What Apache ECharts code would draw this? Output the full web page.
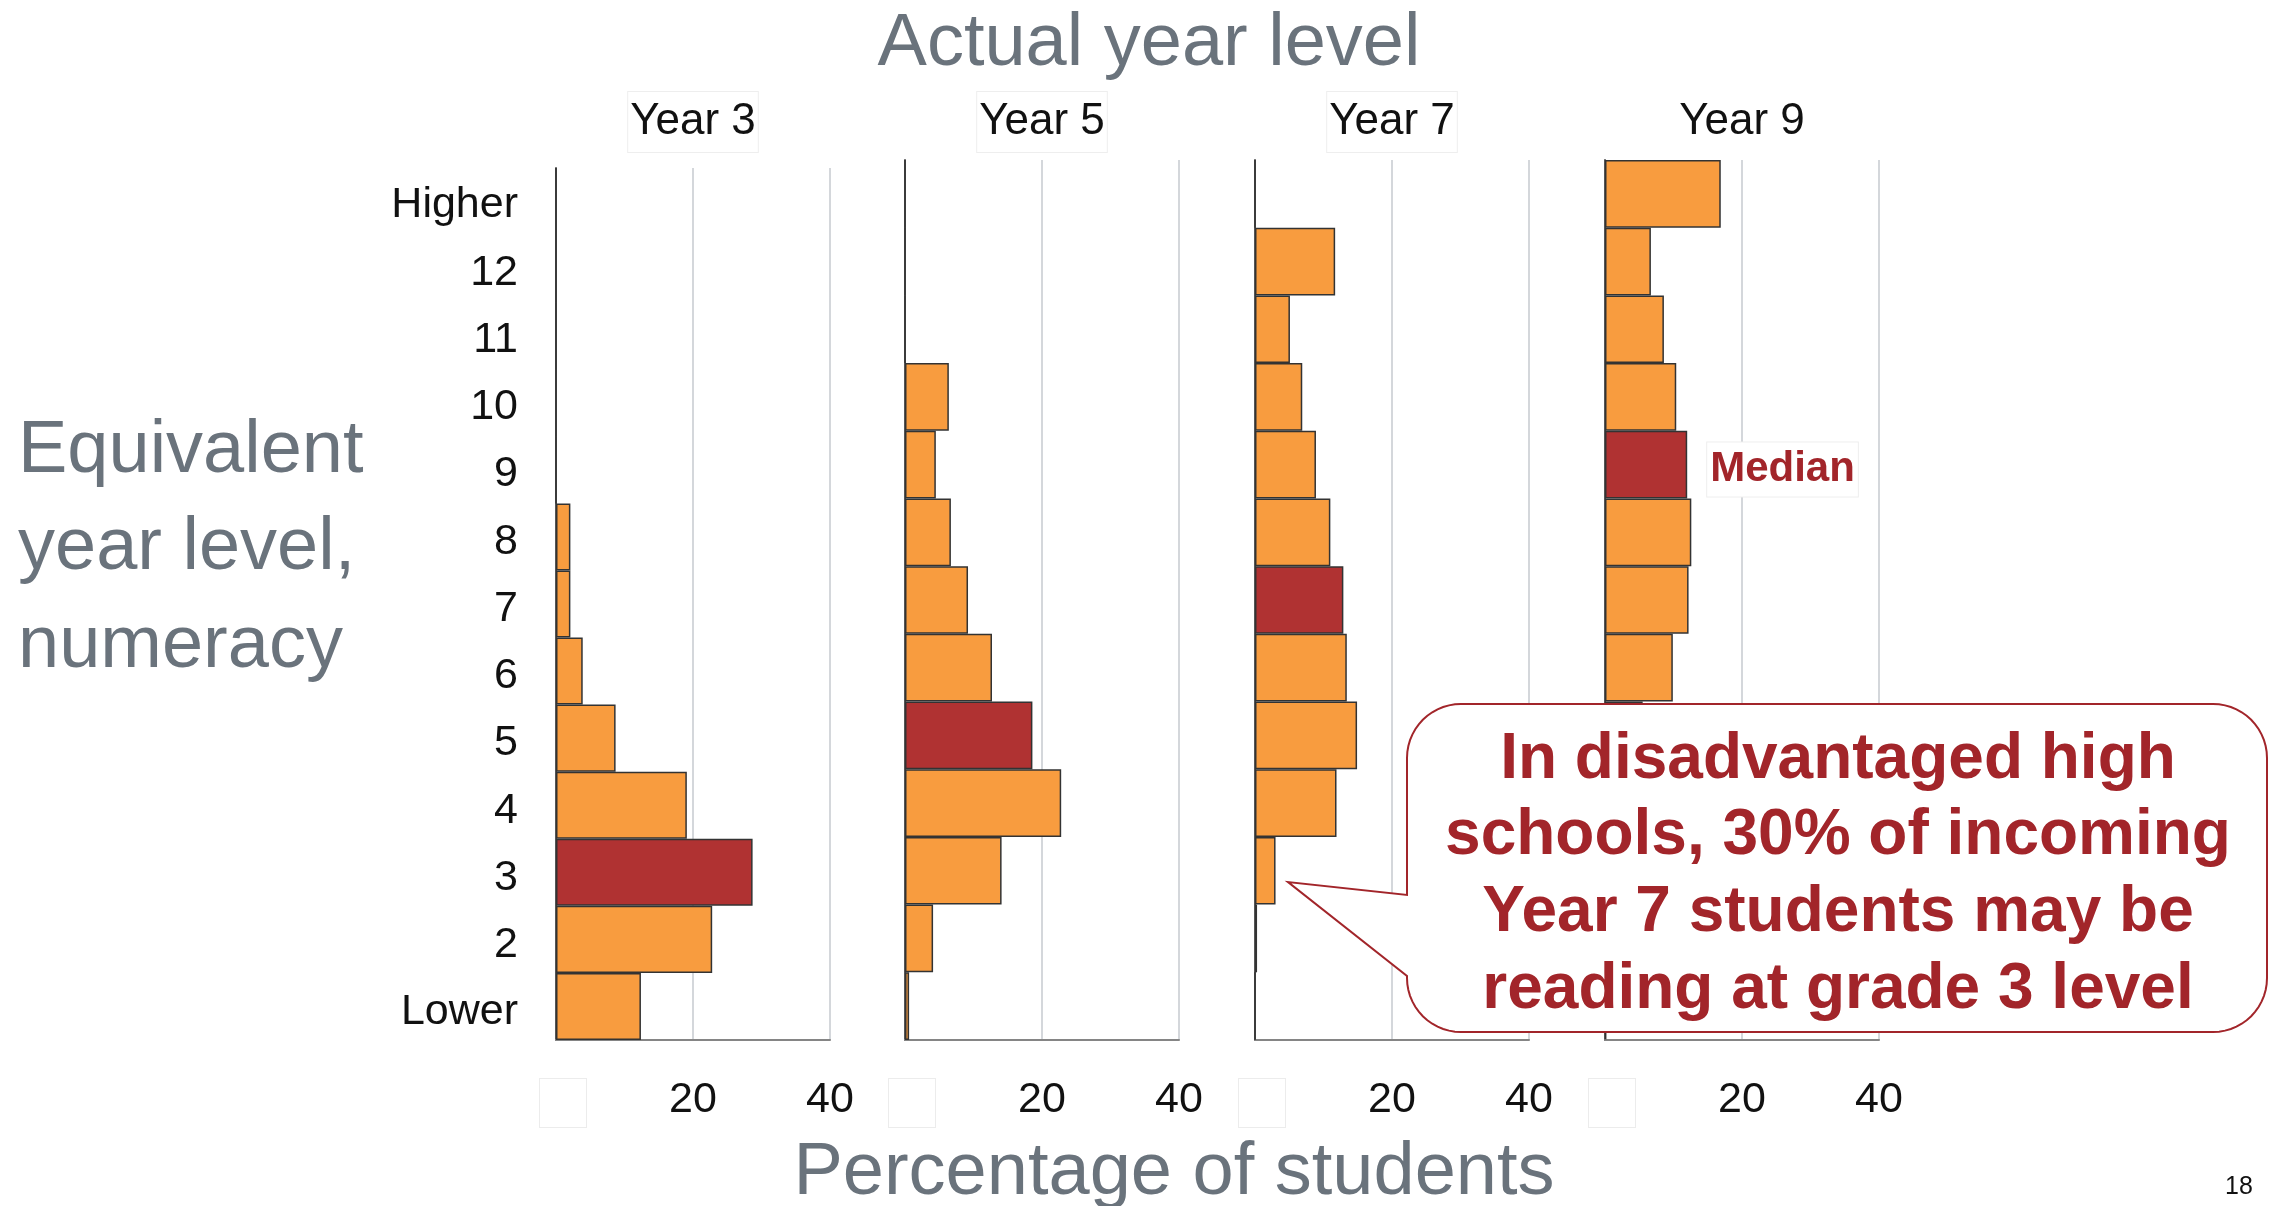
<!DOCTYPE html>
<html>
<head>
<meta charset="utf-8">
<title>Equivalent year level, numeracy</title>
<script src="https://cdn.jsdelivr.net/npm/echarts@6/dist/echarts.min.js"></script>
<style>
  html, body { margin: 0; padding: 0; background: #ffffff; }
  #main { width: 2272px; height: 1206px; }
</style>
</head>
<body>
<div id="main"></div>
<script>
// Equivalent year level categories, bottom to top
const levels = ['Lower', '2', '3', '4', '5', '6', '7', '8', '9', '10', '11', '12', 'Higher'];

// Actual year level of each panel
const yearNames = ['Year 3', 'Year 5', 'Year 7', 'Year 9'];

// Percentage of students at each equivalent level (Lower .. Higher)
const year3 = [12.4, 22.8, 28.7, 19.1, 8.7, 3.9, 2.1, 2.1, 0, 0, 0, 0, 0];
const year5 = [0.6, 4.1, 14.1, 22.8, 18.6, 12.7, 9.2, 6.7, 4.5, 6.4, 0, 0, 0];
const year7 = [0, 0.3, 3.0, 11.9, 14.9, 13.4, 12.9, 11.0, 8.9, 6.9, 5.1, 11.7, 0];
const year9 = [0.2, 0.5, 1.5, 3.2, 5.5, 9.9, 12.2, 12.6, 12.0, 10.4, 8.6, 6.7, 16.9];

// Level holding the median student in each panel
const medianLevels = ['3', '5', '7', '9'];

// Percentage axis ticks
const xMin = 0, xMax = 40, xStep = 20;

const calloutLines = [
  'In disadvantaged high',
  'schools, 30% of incoming',
  'Year 7 students may be',
  'reading at grade 3 level'
];

const panelValues = [year3, year5, year7, year9];

// ---- styling / layout ----
const FONT = '"Liberation Sans", Arial, Helvetica, sans-serif';
const ORANGE = '#F89C3F';
const RED = '#B03232';
const DARK_RED = '#A2252A';
const GREY_TEXT = '#6A737C';

const panelLeft = [556, 905, 1255, 1605];
const panelTop = [168, 160, 160, 160];
const panelWidth = 274;
const plotBottom = 1040;
// level names sit on their own slightly lower strip
const labelStrip = { left: 556, top: 172, width: 1, height: 874 };

const chart = echarts.init(document.getElementById('main'), null, { renderer: 'canvas' });

const grids = panelLeft.map((l, i) => ({
  left: l, top: panelTop[i], width: panelWidth, height: plotBottom - panelTop[i]
}));
grids.push(labelStrip);

const xAxes = panelLeft.map((l, i) => ({
  type: 'value', gridIndex: i, min: xMin, max: xMax, interval: xStep,
  axisLine: { show: true, lineStyle: { color: '#858585', width: 2 } },
  axisTick: { show: false },
  splitLine: { show: true, lineStyle: { color: '#d4d7db', width: 2 } },
  axisLabel: {
    margin: 39, fontSize: 43, color: '#111', fontFamily: FONT,
    formatter: v => (v === 0 ? '{sp|}{blank|}' : String(v)),
    rich: {
      sp: { width: 14, height: 48 },
      blank: { width: 46, height: 48, backgroundColor: '#fff', borderColor: '#ececec', borderWidth: 1 }
    }
  }
}));
xAxes.push({ type: 'value', gridIndex: 4, show: false, min: xMin, max: xMax });

const yAxes = panelLeft.map((l, i) => ({
  type: 'category', gridIndex: i, data: levels,
  axisLine: { show: true, onZero: false, lineStyle: { color: '#555', width: 2 } },
  axisTick: { show: false },
  splitLine: { show: false },
  axisLabel: { show: false }
}));
yAxes.push({
  type: 'category', gridIndex: 4, data: levels,
  axisLine: { show: false }, axisTick: { show: false }, splitLine: { show: false },
  axisLabel: { show: true, fontSize: 43, color: '#111', fontFamily: FONT, margin: 38 }
});

const series = panelValues.map((vals, i) => ({
  type: 'bar', xAxisIndex: i, yAxisIndex: i,
  barCategoryGap: '0%',
  silent: true,
  itemStyle: { color: ORANGE, borderColor: '#333', borderWidth: 1.5 },
  data: vals.map((v, k) => {
    if (levels[k] !== medianLevels[i]) return v;
    const item = { value: v, itemStyle: { color: RED } };
    if (i === panelValues.length - 1) {
      item.label = {
        show: true, position: 'right', distance: 20, offset: [0, 5], formatter: 'Median',
        color: DARK_RED, fontWeight: 'bold', fontSize: 42, fontFamily: FONT,
        backgroundColor: '#fff', borderColor: '#eeeeee', borderWidth: 1, padding: [6, 3]
      };
    }
    return item;
  })
}));

// speech-bubble outline (rounded box with a tail on its left side)
function bubblePoints(L, T, R, B, r, tip, tailTop, tailBottom) {
  const pts = [];
  const arc = (cx, cy, a0, a1) => {
    const n = 14;
    for (let s = 0; s <= n; s++) {
      const a = a0 + (a1 - a0) * s / n;
      pts.push([cx + r * Math.cos(a), cy + r * Math.sin(a)]);
    }
  };
  const P = Math.PI;
  arc(L + r, T + r, P, 1.5 * P);          // top-left
  arc(R - r, T + r, 1.5 * P, 2 * P);      // top-right
  arc(R - r, B - r, 0, 0.5 * P);          // bottom-right
  arc(L + r, B - r, 0.5 * P, P);          // bottom-left
  pts.push([L, tailBottom], tip, [L, tailTop]);
  return pts;
}

const graphics = [
  { type: 'text', z: 50, style: { text: 'Actual year level', x: 1149, y: 45, align: 'center', verticalAlign: 'middle',
      fontSize: 74, fontFamily: FONT, fill: GREY_TEXT } },
  { type: 'text', z: 50, style: { text: 'Percentage of students', x: 1174, y: 1174, align: 'center', verticalAlign: 'middle',
      fontSize: 74, fontFamily: FONT, fill: GREY_TEXT } },
  { type: 'text', z: 50, style: { text: 'Equivalent\nyear level,\nnumeracy', x: 18, y: 549, align: 'left', verticalAlign: 'middle',
      fontSize: 74, lineHeight: 97.5, fontFamily: FONT, fill: GREY_TEXT } },
  { type: 'text', z: 50, style: { text: '18', x: 2239, y: 1187, align: 'center', verticalAlign: 'middle',
      fontSize: 25, fontFamily: FONT, fill: '#111' } }
];

yearNames.forEach((name, i) => {
  graphics.push({
    type: 'text', z: 50,
    style: {
      text: name, x: panelLeft[i] + panelWidth / 2, y: 122, align: 'center', verticalAlign: 'middle',
      fontSize: 44, fontFamily: FONT, fill: '#111',
      backgroundColor: '#fff', borderColor: i < 3 ? '#eeeeee' : '#ffffff', borderWidth: 1, padding: [9, 2, 7, 2]
    }
  });
});

graphics.push({
  type: 'polygon', z: 100,
  shape: { points: bubblePoints(1407, 704, 2267, 1032, 54, [1288, 882], 895, 976) },
  style: { fill: '#ffffff', stroke: DARK_RED, lineWidth: 2 }
});
graphics.push({
  type: 'text', z: 101,
  style: {
    text: calloutLines.join('\n'), x: 1838, y: 875, align: 'center', verticalAlign: 'middle',
    fontSize: 64, fontWeight: 'bold', lineHeight: 76.6, fontFamily: FONT, fill: DARK_RED
  }
});

chart.setOption({
  backgroundColor: '#ffffff',
  animation: false,
  grid: grids,
  xAxis: xAxes,
  yAxis: yAxes,
  series: series,
  graphic: graphics
});
</script>
</body>
</html>
